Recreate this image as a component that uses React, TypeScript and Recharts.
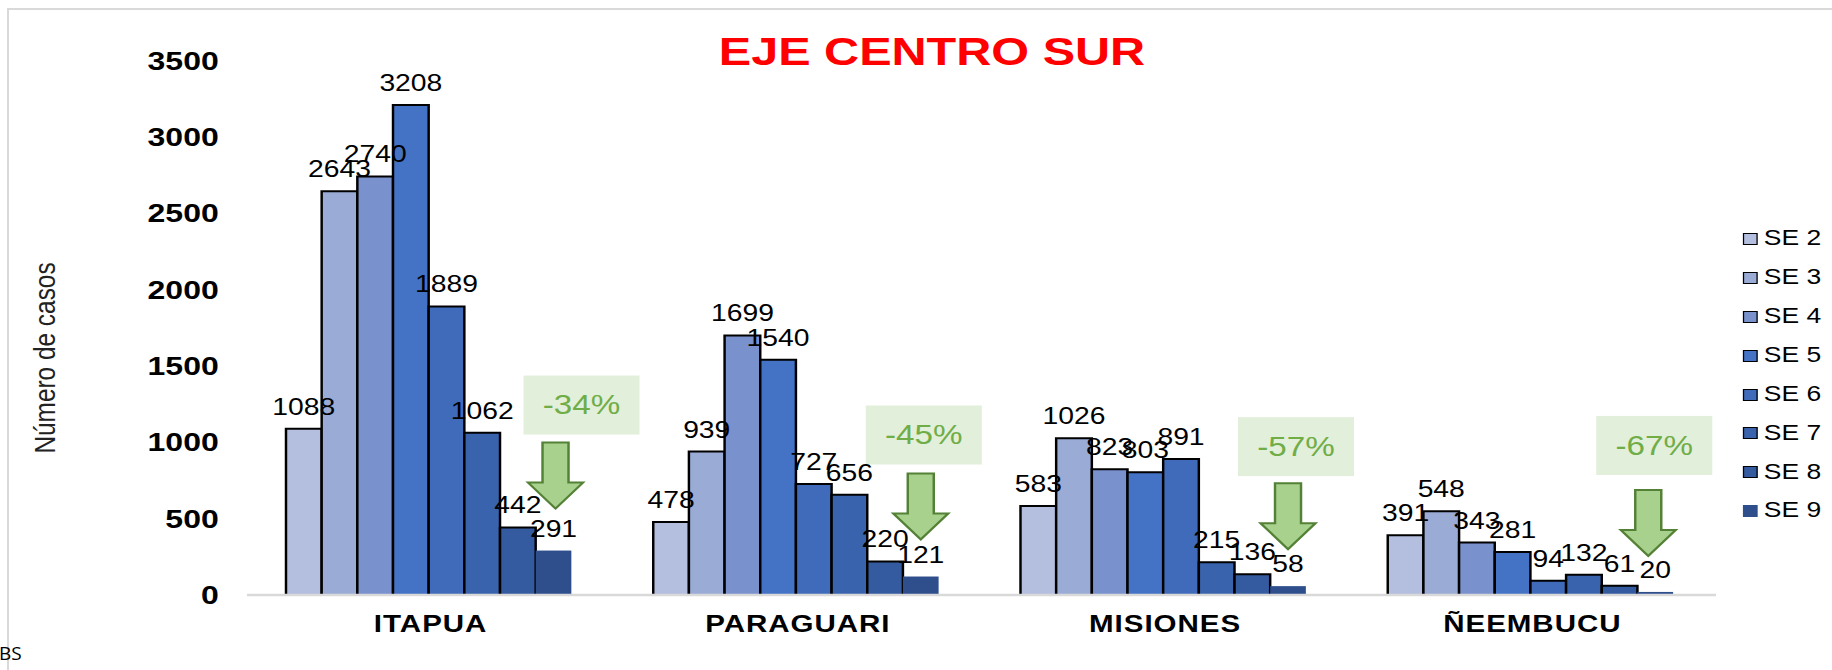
import React from "react";
import { Bar, BarChart, Customized, LabelList, Legend, XAxis, YAxis } from "recharts";

// the source picture is an Excel chart stretched sideways, so the chart is drawn narrow and scaled in x
const SX = 1.23;
const W = 1832 / SX;
const H = 670;
const FONT = "'Liberation Sans', Arial, sans-serif";

const categories = ["ITAPUA", "PARAGUARI", "MISIONES", "ÑEEMBUCU"];
const weeks = ["SE 2", "SE 3", "SE 4", "SE 5", "SE 6", "SE 7", "SE 8", "SE 9"];
const se2 = [1088, 478, 583, 391];
const se3 = [2643, 939, 1026, 548];
const se4 = [2740, 1699, 823, 343];
const se5 = [3208, 1540, 803, 281];
const se6 = [1889, 727, 891, 94];
const se7 = [1062, 656, 215, 132];
const se8 = [442, 220, 136, 61];
const se9 = [291, 121, 58, 20];
const drops = ["-34%", "-45%", "-57%", "-67%"];
const yTicks = [0, 500, 1000, 1500, 2000, 2500, 3000, 3500];

const colors = ["#B4BEDF", "#9AABD6", "#7991CC", "#4472C4", "#3F6BBA", "#3A63AE", "#345A9F", "#2E4E8C"];
const seriesValues = [se2, se3, se4, se5, se6, se7, se8, se9];

const rows = categories.map((name, i) => {
  const row: Record<string, string | number> = { name };
  weeks.forEach((w, s) => {
    row[w] = seriesValues[s][i];
  });
  row.drop = drops[i];
  return row;
});

// callout placement relative to the SE 9 bar (screen px)
const callouts = [
  { boxDx: 28, boxTop: 175, arrowDx: 2, tipGap: 42 },
  { boxDx: 3, boxTop: 171, arrowDx: 0, tipGap: 37 },
  { boxDx: 8, boxTop: 169, arrowDx: 0, tipGap: 37 },
  { boxDx: -1, boxTop: 176, arrowDx: -7, tipGap: 36 },
];

const LastWeekShape = (props: any) => {
  const { x, y, width, height, fill, payload } = props;
  let index = props.index;
  if (index === undefined && payload) index = categories.indexOf(payload.name);
  const c = callouts[index] || callouts[0];
  const cx = x + width / 2;
  const ax = cx + c.arrowDx / SX;
  const tip = y - c.tipGap;
  const top = tip - 66;
  const head = tip - 26;
  const hw = 27.5 / SX;
  const hs = 13 / SX;
  const pts = [
    [ax - hs, top],
    [ax + hs, top],
    [ax + hs, head],
    [ax + hw, head],
    [ax, tip],
    [ax - hw, head],
    [ax - hs, head],
  ]
    .map((p) => p.join(","))
    .join(" ");
  const bw = 116 / SX;
  const bcx = cx + c.boxDx / SX;
  const by = y - c.boxTop;
  return (
    <g>
      <rect x={x} y={y} width={width} height={height} fill={fill} />
      <rect x={bcx - bw / 2} y={by} width={bw} height={59} fill="#E2EFDA" />
      <text
        x={bcx}
        y={by + 29.5}
        textAnchor="middle"
        dominantBaseline="central"
        fontSize={27}
        fontFamily={FONT}
        fill="#70AD47"
      >
        {payload ? payload.drop : drops[index]}
      </text>
      <polygon points={pts} fill="#A9D18E" stroke="#538135" strokeWidth={2} strokeLinejoin="miter" />
    </g>
  );
};

const LegendBox = () => (
  <div style={{ fontFamily: FONT, fontSize: 21.5, color: "#000" }}>
    {weeks.map((w, s) => (
      <div key={w} style={{ display: "flex", alignItems: "center", height: 38.9 }}>
        <span
          style={{
            display: "inline-block",
            boxSizing: "border-box",
            width: 12.4,
            height: 12,
            background: colors[s],
            border: s < 7 ? "1.8px solid #000" : "none",
            marginRight: 4.8,
          }}
        />
        <span style={{ lineHeight: 1 }}>{w}</span>
      </div>
    ))}
  </div>
);

const Texts = () => (
  <g>
    <text
      x={932 / SX}
      y={64.5}
      textAnchor="middle"
      fontSize={39.5}
      fontWeight={700}
      fontFamily={FONT}
      fill="#FF0000"
    >
      EJE CENTRO SUR
    </text>
    <text
      transform={`translate(${55 / SX},358) rotate(-90)`}
      textAnchor="middle"
      fontSize={24.4}
      fontFamily={FONT}
      fill="#222"
    >
      Número de casos
    </text>
  </g>
);

const App = () => {
  return (
    <div style={{ position: "absolute", left: 0, top: 0, width: 1832, height: H, overflow: "hidden", background: "#fff" }}>
      <div
        style={{
          position: "absolute",
          left: 7,
          top: 8,
          width: 1900,
          height: 800,
          borderLeft: "2px solid #D9D9D9",
          borderTop: "2px solid #D9D9D9",
        }}
      />
      <div style={{ position: "absolute", left: 0, top: 0, width: W, height: H, transform: `scaleX(${SX})`, transformOrigin: "0 0" }}>
        <BarChart
          width={W}
          height={H}
          data={rows}
          margin={{ top: 60.4, right: (1832 - 1716) / SX, bottom: 45, left: 247 / SX - 180 }}
          barGap={0}
          barCategoryGap={39 / SX}
        >
          <XAxis
            dataKey="name"
            interval={0}
            tickLine={false}
            axisLine={{ stroke: "#D9D9D9", strokeWidth: 2.5 }}
            tickSize={0}
            tickMargin={20}
            height={30}
            tick={{ fill: "#000", fontSize: 24, fontWeight: 700, fontFamily: FONT, letterSpacing: 0.8 }}
          />
          <YAxis
            domain={[0, 3500]}
            ticks={yTicks}
            width={180}
            axisLine={false}
            tickLine={false}
            tickSize={0}
            tickMargin={23}
            tick={{ fill: "#000", fontSize: 26, fontWeight: 700, fontFamily: FONT }}
          />
          <Legend
            layout="vertical"
            align="center"
            verticalAlign="middle"
            wrapperStyle={{ left: 1742.7 / SX, top: 219.5, width: 80 }}
            content={() => <LegendBox />}
          />
          {weeks.map((w, s) => (
            <Bar
              key={w}
              dataKey={w}
              fill={colors[s]}
              stroke={s < 7 ? "#000" : "none"}
              strokeWidth={2}
              isAnimationActive={false}
              shape={s === 7 ? LastWeekShape : undefined}
            >
              <LabelList dataKey={w} position="top" offset={14} fill="#000" fontSize={23} fontFamily={FONT} />
            </Bar>
          ))}
          <Customized component={<Texts />} />
        </BarChart>
      </div>
      <div style={{ position: "absolute", left: -1, top: 640, fontFamily: "'Open Sans', sans-serif", fontSize: 19, color: "#000" }}>
        BS
      </div>
    </div>
  );
};

export default App;
